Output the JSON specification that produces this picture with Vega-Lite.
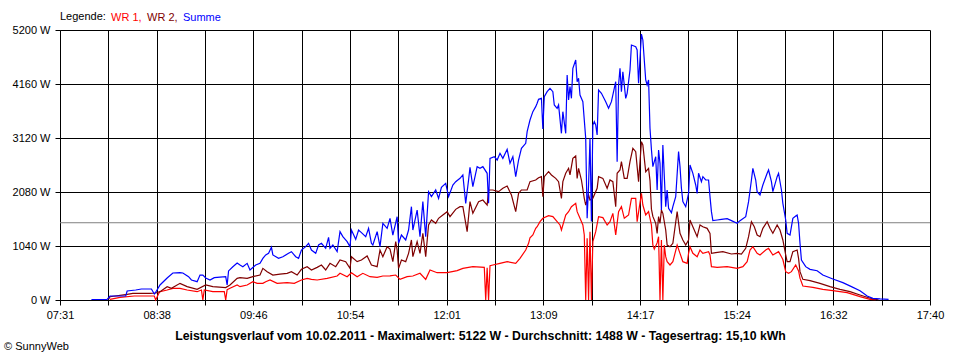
{
  "$schema": "https://vega.github.io/schema/vega-lite/v6.json",
  "width": 870,
  "height": 270,
  "autosize": {"type": "none"},
  "padding": {"left": 60, "top": 30, "right": 30, "bottom": 60},
  "background": "#ffffff",
  "config": {
    "font": "Liberation Sans",
    "view": {"stroke": null},
    "axis": {
      "labelFont": "Liberation Sans", "labelFontSize": 11, "labelColor": "#000000",
      "domainColor": "#000000", "tickColor": "#000000", "gridColor": "#000000",
      "gridOpacity": 1, "tickSize": 5, "domainWidth": 1, "gridWidth": 1, "tickWidth": 1,
      "titleFont": "Liberation Sans", "titleColor": "#000000"
    }
  },
  "title": {"text": "© SunnyWeb", "orient": "bottom", "anchor": "start", "fontSize": 11, "fontWeight": "normal", "font": "Liberation Sans", "color": "#000000", "offset": 0, "dx": -8},
  "layer": [
    {
      "data": {"values": [{"w": 1488}]},
      "mark": {"type": "rule", "color": "#808080", "strokeWidth": 1},
      "encoding": {
        "y": {
          "field": "w", "type": "quantitative",
          "scale": {"domain": [0, 5200], "nice": false},
          "axis": {"values": [0, 1040, 2080, 3120, 4160, 5200], "labelExpr": "datum.value + ' W'", "title": null, "labelPadding": 5, "grid": true}
        }
      }
    },
    {
      "data": {"format": {"parse": {"t": "date:'%H:%M'"}}, "values": [
        {"t":"08:06","w":13},{"t":"08:13","w":52},{"t":"08:23","w":77},{"t":"08:37","w":77},{"t":"08:38","w":0},{"t":"08:40","w":120},{"t":"08:41","w":160},{"t":"08:46","w":193},{"t":"08:50","w":225},{"t":"08:55","w":225},{"t":"09:00","w":193},{"t":"09:07","w":160},{"t":"09:10","w":193},{"t":"09:11","w":0},{"t":"09:12","w":193},{"t":"09:18","w":160},{"t":"09:26","w":160},{"t":"09:27","w":0},{"t":"09:28","w":200},{"t":"09:30","w":225},{"t":"09:35","w":289},{"t":"09:37","w":257},{"t":"09:42","w":289},{"t":"09:46","w":353},{"t":"09:49","w":321},{"t":"09:53","w":321},{"t":"09:55","w":353},{"t":"09:58","w":385},{"t":"10:03","w":321},{"t":"10:10","w":334},{"t":"10:15","w":321},{"t":"10:20","w":385},{"t":"10:24","w":417},{"t":"10:27","w":398},{"t":"10:31","w":385},{"t":"10:38","w":417},{"t":"10:45","w":462},{"t":"10:47","w":514},{"t":"10:52","w":449},{"t":"10:55","w":526},{"t":"10:59","w":449},{"t":"11:03","w":514},{"t":"11:08","w":449},{"t":"11:13","w":436},{"t":"11:17","w":462},{"t":"11:22","w":465},{"t":"11:26","w":481},{"t":"11:29","w":398},{"t":"11:34","w":449},{"t":"11:38","w":462},{"t":"11:43","w":514},{"t":"11:47","w":398},{"t":"11:50","w":578},{"t":"11:55","w":526},{"t":"12:02","w":526},{"t":"12:09","w":565},{"t":"12:13","w":610},{"t":"12:20","w":642},{"t":"12:28","w":629},{"t":"12:29","w":0},{"t":"12:30","w":620},{"t":"12:31","w":0},{"t":"12:32","w":660},{"t":"12:34","w":674},{"t":"12:39","w":706},{"t":"12:44","w":738},{"t":"12:50","w":706},{"t":"12:53","w":802},{"t":"12:57","w":963},{"t":"12:59","w":1092},{"t":"13:00","w":1200},{"t":"13:02","w":1252},{"t":"13:04","w":1380},{"t":"13:05","w":1412},{"t":"13:07","w":1508},{"t":"13:09","w":1573},{"t":"13:13","w":1624},{"t":"13:16","w":1605},{"t":"13:19","w":1508},{"t":"13:21","w":1445},{"t":"13:22","w":1348},{"t":"13:25","w":1637},{"t":"13:27","w":1701},{"t":"13:29","w":1797},{"t":"13:32","w":1862},{"t":"13:33","w":1701},{"t":"13:35","w":1573},{"t":"13:37","w":1445},{"t":"13:38","w":1252},{"t":"13:39","w":0},{"t":"13:40","w":1188},{"t":"13:41","w":0},{"t":"13:42","w":1316},{"t":"13:43","w":0},{"t":"13:44","w":1123},{"t":"13:46","w":1316},{"t":"13:48","w":1605},{"t":"13:51","w":1586},{"t":"13:54","w":1445},{"t":"13:56","w":1508},{"t":"13:58","w":1669},{"t":"14:00","w":1252},{"t":"14:02","w":1701},{"t":"14:04","w":1797},{"t":"14:06","w":1573},{"t":"14:09","w":1637},{"t":"14:11","w":1958},{"t":"14:14","w":1958},{"t":"14:15","w":1508},{"t":"14:18","w":2054},{"t":"14:19","w":1829},{"t":"14:21","w":1637},{"t":"14:23","w":1701},{"t":"14:25","w":1445},{"t":"14:26","w":1060},{"t":"14:27","w":980},{"t":"14:29","w":1100},{"t":"14:30","w":1220},{"t":"14:31","w":0},{"t":"14:32","w":1156},{"t":"14:33","w":0},{"t":"14:34","w":1059},{"t":"14:35","w":834},{"t":"14:36","w":738},{"t":"14:38","w":674},{"t":"14:40","w":738},{"t":"14:43","w":1059},{"t":"14:45","w":899},{"t":"14:47","w":738},{"t":"14:50","w":706},{"t":"14:51","w":899},{"t":"14:52","w":1027},{"t":"14:54","w":899},{"t":"14:57","w":834},{"t":"14:59","w":963},{"t":"15:01","w":899},{"t":"15:05","w":931},{"t":"15:06","w":867},{"t":"15:07","w":642},{"t":"15:11","w":629},{"t":"15:18","w":642},{"t":"15:25","w":610},{"t":"15:29","w":642},{"t":"15:32","w":738},{"t":"15:34","w":963},{"t":"15:36","w":1027},{"t":"15:39","w":899},{"t":"15:41","w":867},{"t":"15:45","w":963},{"t":"15:47","w":995},{"t":"15:50","w":867},{"t":"15:54","w":931},{"t":"15:56","w":834},{"t":"15:57","w":780},{"t":"15:59","w":546},{"t":"16:01","w":514},{"t":"16:03","w":546},{"t":"16:06","w":674},{"t":"16:08","w":560},{"t":"16:09","w":420},{"t":"16:11","w":270},{"t":"16:18","w":244},{"t":"16:25","w":205},{"t":"16:32","w":180},{"t":"16:42","w":141},{"t":"16:51","w":64},{"t":"16:58","w":13},{"t":"17:02","w":5}
      ]},
      "mark": {"type": "line", "strokeWidth": 1.2},
      "encoding": {
        "x": {
          "field": "t", "type": "temporal",
          "scale": {"domain": [{"year":1900,"month":1,"date":1,"hours":7,"minutes":31,"seconds":0},{"year":1900,"month":1,"date":1,"hours":17,"minutes":40,"seconds":0}]},
          "axis": {
            "values": [
              {"year":1900,"month":1,"date":1,"hours":7,"minutes":31,"seconds":0},
              {"year":1900,"month":1,"date":1,"hours":8,"minutes":4,"seconds":50},
              {"year":1900,"month":1,"date":1,"hours":8,"minutes":38,"seconds":40},
              {"year":1900,"month":1,"date":1,"hours":9,"minutes":12,"seconds":30},
              {"year":1900,"month":1,"date":1,"hours":9,"minutes":46,"seconds":20},
              {"year":1900,"month":1,"date":1,"hours":10,"minutes":20,"seconds":10},
              {"year":1900,"month":1,"date":1,"hours":10,"minutes":54,"seconds":0},
              {"year":1900,"month":1,"date":1,"hours":11,"minutes":27,"seconds":50},
              {"year":1900,"month":1,"date":1,"hours":12,"minutes":1,"seconds":40},
              {"year":1900,"month":1,"date":1,"hours":12,"minutes":35,"seconds":30},
              {"year":1900,"month":1,"date":1,"hours":13,"minutes":9,"seconds":20},
              {"year":1900,"month":1,"date":1,"hours":13,"minutes":43,"seconds":10},
              {"year":1900,"month":1,"date":1,"hours":14,"minutes":17,"seconds":0},
              {"year":1900,"month":1,"date":1,"hours":14,"minutes":50,"seconds":50},
              {"year":1900,"month":1,"date":1,"hours":15,"minutes":24,"seconds":40},
              {"year":1900,"month":1,"date":1,"hours":15,"minutes":58,"seconds":30},
              {"year":1900,"month":1,"date":1,"hours":16,"minutes":32,"seconds":20},
              {"year":1900,"month":1,"date":1,"hours":17,"minutes":6,"seconds":10},
              {"year":1900,"month":1,"date":1,"hours":17,"minutes":40,"seconds":0}
            ],
            "labelExpr": "seconds(datum.value) % 20 == 0 ? timeFormat(datum.value, '%H:%M') : ''",
            "labelOverlap": false, "labelFlush": false, "labelPadding": 4, "grid": true,
            "title": "Leistungsverlauf vom 10.02.2011 - Maximalwert: 5122 W - Durchschnitt: 1488 W - Tagesertrag: 15,10 kWh",
            "titleFontWeight": "bold", "titleFontSize": 12.3, "titlePadding": 9, "titleX": 420
          }
        },
        "y": {
          "field": "w", "type": "quantitative",
          "scale": {"domain": [0, 5200], "nice": false},
          "axis": {"values": [0, 1040, 2080, 3120, 4160, 5200], "labelExpr": "datum.value + ' W'", "title": null, "labelPadding": 5, "grid": true}
        },
        "color": {
          "datum": "WR 1", "type": "nominal",
          "scale": {"domain": ["WR 1", "WR 2", "Summe"], "range": ["#ff0000", "#800000", "#0000ff"]},
          "legend": {
            "title": "Legende:", "orient": "top", "direction": "horizontal", "titleOrient": "left",
            "titleFontWeight": "normal", "titleFontSize": 11, "titleColor": "#000000", "titleFont": "Liberation Sans",
            "labelFontSize": 11, "labelFont": "Liberation Sans",
            "symbolSize": 0, "symbolOpacity": 0, "symbolStrokeWidth": 0, "labelOffset": -9,
            "columnPadding": 3, "titlePadding": 3, "offset": 7,
            "labelExpr": "datum.value == 'Summe' ? datum.value : datum.value + ','",
            "labelColor": {"expr": "datum.value == 'WR 1' ? '#ff0000' : datum.value == 'WR 2' ? '#800000' : '#0000ff'"}
          }
        }
      }
    },
    {
      "data": {"format": {"parse": {"t": "date:'%H:%M'"}}, "values": [
        {"t":"08:05","w":10},{"t":"08:06","w":64},{"t":"08:18","w":110},{"t":"08:22","w":128},{"t":"08:34","w":128},{"t":"08:38","w":135},{"t":"08:41","w":160},{"t":"08:46","w":257},{"t":"08:49","w":225},{"t":"08:55","w":321},{"t":"09:00","w":257},{"t":"09:07","w":205},{"t":"09:13","w":289},{"t":"09:18","w":257},{"t":"09:27","w":240},{"t":"09:30","w":289},{"t":"09:35","w":417},{"t":"09:37","w":430},{"t":"09:42","w":417},{"t":"09:46","w":449},{"t":"09:51","w":481},{"t":"09:53","w":610},{"t":"09:56","w":546},{"t":"10:00","w":481},{"t":"10:05","w":500},{"t":"10:10","w":514},{"t":"10:13","w":546},{"t":"10:17","w":481},{"t":"10:20","w":591},{"t":"10:24","w":642},{"t":"10:27","w":578},{"t":"10:31","w":629},{"t":"10:34","w":674},{"t":"10:37","w":578},{"t":"10:40","w":706},{"t":"10:44","w":642},{"t":"10:47","w":770},{"t":"10:51","w":738},{"t":"10:54","w":610},{"t":"10:55","w":834},{"t":"10:59","w":738},{"t":"11:02","w":770},{"t":"11:06","w":847},{"t":"11:09","w":674},{"t":"11:13","w":642},{"t":"11:15","w":963},{"t":"11:17","w":834},{"t":"11:20","w":1027},{"t":"11:22","w":980},{"t":"11:24","w":738},{"t":"11:26","w":1123},{"t":"11:27","w":963},{"t":"11:28","w":610},{"t":"11:30","w":770},{"t":"11:33","w":738},{"t":"11:35","w":899},{"t":"11:37","w":1156},{"t":"11:38","w":834},{"t":"11:41","w":1123},{"t":"11:43","w":899},{"t":"11:45","w":1284},{"t":"11:47","w":834},{"t":"11:49","w":1445},{"t":"11:51","w":1541},{"t":"11:54","w":1477},{"t":"11:56","w":1573},{"t":"11:59","w":1637},{"t":"12:02","w":1701},{"t":"12:04","w":1605},{"t":"12:08","w":1746},{"t":"12:11","w":1797},{"t":"12:13","w":1797},{"t":"12:16","w":1316},{"t":"12:18","w":1894},{"t":"12:20","w":1669},{"t":"12:24","w":1894},{"t":"12:27","w":1926},{"t":"12:30","w":1829},{"t":"12:31","w":2119},{"t":"12:34","w":2119},{"t":"12:38","w":2086},{"t":"12:41","w":2151},{"t":"12:44","w":2196},{"t":"12:47","w":2022},{"t":"12:50","w":1701},{"t":"12:52","w":2054},{"t":"12:54","w":2119},{"t":"12:58","w":2119},{"t":"13:00","w":2279},{"t":"13:04","w":2311},{"t":"13:06","w":2356},{"t":"13:08","w":2375},{"t":"13:09","w":1990},{"t":"13:10","w":2375},{"t":"13:13","w":2471},{"t":"13:15","w":2408},{"t":"13:18","w":2343},{"t":"13:20","w":2279},{"t":"13:22","w":1958},{"t":"13:23","w":2279},{"t":"13:25","w":2440},{"t":"13:27","w":2536},{"t":"13:28","w":2408},{"t":"13:30","w":2728},{"t":"13:32","w":2773},{"t":"13:33","w":2343},{"t":"13:34","w":2536},{"t":"13:36","w":2311},{"t":"13:38","w":1958},{"t":"13:39","w":1829},{"t":"13:41","w":2022},{"t":"13:42","w":1926},{"t":"13:44","w":1958},{"t":"13:47","w":2151},{"t":"13:48","w":2375},{"t":"13:51","w":2343},{"t":"13:54","w":2151},{"t":"13:56","w":2311},{"t":"13:58","w":2279},{"t":"14:00","w":1797},{"t":"14:01","w":2440},{"t":"14:03","w":2504},{"t":"14:04","w":2664},{"t":"14:06","w":2343},{"t":"14:08","w":2343},{"t":"14:10","w":2664},{"t":"14:12","w":2921},{"t":"14:14","w":2857},{"t":"14:16","w":2279},{"t":"14:18","w":3050},{"t":"14:19","w":2985},{"t":"14:21","w":2471},{"t":"14:23","w":2536},{"t":"14:24","w":2300},{"t":"14:25","w":1750},{"t":"14:26","w":1610},{"t":"14:28","w":1477},{"t":"14:29","w":1284},{"t":"14:30","w":1605},{"t":"14:31","w":1477},{"t":"14:32","w":1733},{"t":"14:33","w":1669},{"t":"14:35","w":1348},{"t":"14:36","w":1059},{"t":"14:38","w":1027},{"t":"14:40","w":1092},{"t":"14:43","w":1701},{"t":"14:45","w":1284},{"t":"14:47","w":1156},{"t":"14:49","w":1059},{"t":"14:51","w":1156},{"t":"14:52","w":1541},{"t":"14:54","w":1412},{"t":"14:57","w":1220},{"t":"14:59","w":1445},{"t":"15:01","w":1412},{"t":"15:04","w":1380},{"t":"15:06","w":1284},{"t":"15:07","w":899},{"t":"15:10","w":911},{"t":"15:15","w":931},{"t":"15:21","w":886},{"t":"15:25","w":899},{"t":"15:28","w":886},{"t":"15:31","w":995},{"t":"15:33","w":1220},{"t":"15:35","w":1508},{"t":"15:37","w":1412},{"t":"15:39","w":1252},{"t":"15:41","w":1220},{"t":"15:43","w":1380},{"t":"15:46","w":1508},{"t":"15:48","w":1380},{"t":"15:50","w":1284},{"t":"15:53","w":1445},{"t":"15:55","w":1348},{"t":"15:57","w":1156},{"t":"15:59","w":867},{"t":"16:00","w":738},{"t":"16:02","w":738},{"t":"16:04","w":931},{"t":"16:07","w":963},{"t":"16:08","w":802},{"t":"16:09","w":546},{"t":"16:11","w":398},{"t":"16:16","w":372},{"t":"16:23","w":321},{"t":"16:30","w":257},{"t":"16:37","w":205},{"t":"16:44","w":160},{"t":"16:51","w":96},{"t":"16:56","w":52},{"t":"17:00","w":19},{"t":"17:04","w":5}
      ]},
      "mark": {"type": "line", "strokeWidth": 1.2},
      "encoding": {
        "x": {"field": "t", "type": "temporal"},
        "y": {"field": "w", "type": "quantitative"},
        "color": {"datum": "WR 2", "type": "nominal"}
      }
    },
    {
      "data": {"format": {"parse": {"t": "date:'%H:%M'"}}, "values": [
        {"t":"07:53","w":10},{"t":"08:04","w":13},{"t":"08:06","w":77},{"t":"08:17","w":77},{"t":"08:18","w":173},{"t":"08:24","w":193},{"t":"08:28","w":212},{"t":"08:35","w":212},{"t":"08:37","w":115},{"t":"08:38","w":150},{"t":"08:41","w":289},{"t":"08:46","w":424},{"t":"08:50","w":520},{"t":"08:55","w":526},{"t":"08:57","w":520},{"t":"09:01","w":449},{"t":"09:03","w":385},{"t":"09:07","w":353},{"t":"09:09","w":480},{"t":"09:11","w":480},{"t":"09:13","w":424},{"t":"09:16","w":385},{"t":"09:19","w":430},{"t":"09:23","w":440},{"t":"09:27","w":450},{"t":"09:28","w":289},{"t":"09:29","w":560},{"t":"09:32","w":640},{"t":"09:35","w":712},{"t":"09:37","w":674},{"t":"09:39","w":642},{"t":"09:42","w":706},{"t":"09:44","w":578},{"t":"09:48","w":674},{"t":"09:51","w":706},{"t":"09:53","w":800},{"t":"09:55","w":867},{"t":"09:57","w":899},{"t":"09:59","w":1015},{"t":"10:00","w":867},{"t":"10:04","w":802},{"t":"10:07","w":834},{"t":"10:11","w":899},{"t":"10:13","w":931},{"t":"10:16","w":834},{"t":"10:18","w":802},{"t":"10:20","w":963},{"t":"10:23","w":1027},{"t":"10:25","w":1092},{"t":"10:27","w":963},{"t":"10:30","w":899},{"t":"10:32","w":1059},{"t":"10:34","w":1092},{"t":"10:37","w":995},{"t":"10:39","w":1207},{"t":"10:40","w":995},{"t":"10:42","w":1059},{"t":"10:45","w":931},{"t":"10:47","w":1316},{"t":"10:49","w":1220},{"t":"10:52","w":1123},{"t":"10:54","w":1027},{"t":"10:55","w":1348},{"t":"10:58","w":1169},{"t":"11:00","w":1348},{"t":"11:02","w":1297},{"t":"11:05","w":1220},{"t":"11:07","w":1380},{"t":"11:09","w":1092},{"t":"11:10","w":1059},{"t":"11:13","w":1316},{"t":"11:15","w":1027},{"t":"11:17","w":1477},{"t":"11:20","w":1380},{"t":"11:22","w":1573},{"t":"11:24","w":1250},{"t":"11:27","w":1605},{"t":"11:28","w":1092},{"t":"11:30","w":1252},{"t":"11:33","w":1156},{"t":"11:35","w":1348},{"t":"11:37","w":1797},{"t":"11:38","w":1348},{"t":"11:41","w":1733},{"t":"11:43","w":1220},{"t":"11:45","w":1894},{"t":"11:47","w":1220},{"t":"11:49","w":2086},{"t":"11:51","w":1990},{"t":"11:54","w":2119},{"t":"11:56","w":1958},{"t":"11:58","w":2170},{"t":"12:01","w":2247},{"t":"12:03","w":1990},{"t":"12:06","w":2215},{"t":"12:08","w":2279},{"t":"12:11","w":2343},{"t":"12:13","w":2408},{"t":"12:15","w":1862},{"t":"12:17","w":2311},{"t":"12:18","w":2555},{"t":"12:20","w":2183},{"t":"12:23","w":2568},{"t":"12:25","w":2536},{"t":"12:27","w":2568},{"t":"12:30","w":2440},{"t":"12:31","w":1862},{"t":"12:32","w":2728},{"t":"12:35","w":2760},{"t":"12:37","w":2696},{"t":"12:39","w":2825},{"t":"12:41","w":2728},{"t":"12:44","w":2902},{"t":"12:46","w":2632},{"t":"12:48","w":2760},{"t":"12:50","w":2375},{"t":"12:52","w":2696},{"t":"12:54","w":2921},{"t":"12:57","w":3018},{"t":"12:58","w":3242},{"t":"13:00","w":3467},{"t":"13:02","w":3627},{"t":"13:04","w":3724},{"t":"13:05","w":3788},{"t":"13:06","w":3865},{"t":"13:08","w":3884},{"t":"13:09","w":3293},{"t":"13:10","w":3916},{"t":"13:12","w":4012},{"t":"13:14","w":4076},{"t":"13:16","w":4012},{"t":"13:17","w":3756},{"t":"13:19","w":3692},{"t":"13:20","w":3756},{"t":"13:22","w":3210},{"t":"13:23","w":3627},{"t":"13:25","w":3210},{"t":"13:26","w":4334},{"t":"13:27","w":3852},{"t":"13:28","w":4109},{"t":"13:29","w":3884},{"t":"13:30","w":4462},{"t":"13:32","w":4622},{"t":"13:33","w":4205},{"t":"13:34","w":4270},{"t":"13:35","w":3948},{"t":"13:37","w":3820},{"t":"13:39","w":3114},{"t":"13:40","w":1573},{"t":"13:41","w":2215},{"t":"13:42","w":3114},{"t":"13:43","w":1510},{"t":"13:44","w":3370},{"t":"13:45","w":3435},{"t":"13:46","w":3370},{"t":"13:47","w":3178},{"t":"13:48","w":4044},{"t":"13:50","w":3981},{"t":"13:53","w":3820},{"t":"13:55","w":3692},{"t":"13:57","w":3820},{"t":"14:00","w":4205},{"t":"14:01","w":2664},{"t":"14:02","w":4141},{"t":"14:03","w":4462},{"t":"14:04","w":4012},{"t":"14:05","w":4397},{"t":"14:07","w":3884},{"t":"14:08","w":3981},{"t":"14:10","w":4430},{"t":"14:11","w":4911},{"t":"14:14","w":4879},{"t":"14:15","w":4815},{"t":"14:16","w":4173},{"t":"14:18","w":5122},{"t":"14:19","w":5008},{"t":"14:21","w":4237},{"t":"14:22","w":4141},{"t":"14:23","w":4237},{"t":"14:24","w":3307},{"t":"14:25","w":2900},{"t":"14:26","w":2568},{"t":"14:28","w":2760},{"t":"14:29","w":2119},{"t":"14:30","w":2889},{"t":"14:31","w":2632},{"t":"14:32","w":1733},{"t":"14:33","w":2985},{"t":"14:35","w":1797},{"t":"14:36","w":2119},{"t":"14:37","w":1766},{"t":"14:39","w":1682},{"t":"14:40","w":1797},{"t":"14:42","w":1990},{"t":"14:44","w":2857},{"t":"14:45","w":2568},{"t":"14:46","w":2151},{"t":"14:47","w":1894},{"t":"14:49","w":1797},{"t":"14:51","w":2054},{"t":"14:52","w":2600},{"t":"14:54","w":2440},{"t":"14:56","w":2215},{"t":"14:57","w":2054},{"t":"14:58","w":2440},{"t":"15:00","w":2279},{"t":"15:01","w":2375},{"t":"15:03","w":2311},{"t":"15:05","w":2311},{"t":"15:06","w":1990},{"t":"15:07","w":1701},{"t":"15:08","w":1528},{"t":"15:11","w":1541},{"t":"15:14","w":1554},{"t":"15:18","w":1566},{"t":"15:21","w":1528},{"t":"15:25","w":1477},{"t":"15:27","w":1528},{"t":"15:31","w":1605},{"t":"15:33","w":1894},{"t":"15:35","w":2311},{"t":"15:36","w":2536},{"t":"15:38","w":2311},{"t":"15:39","w":2086},{"t":"15:41","w":2022},{"t":"15:43","w":2215},{"t":"15:46","w":2440},{"t":"15:47","w":2504},{"t":"15:49","w":2279},{"t":"15:50","w":2086},{"t":"15:53","w":2375},{"t":"15:54","w":2440},{"t":"15:56","w":2119},{"t":"15:57","w":1862},{"t":"15:59","w":1541},{"t":"16:00","w":1284},{"t":"16:02","w":1252},{"t":"16:04","w":1573},{"t":"16:06","w":1618},{"t":"16:07","w":1637},{"t":"16:08","w":1477},{"t":"16:09","w":1092},{"t":"16:10","w":770},{"t":"16:13","w":642},{"t":"16:16","w":591},{"t":"16:21","w":564},{"t":"16:25","w":481},{"t":"16:32","w":404},{"t":"16:39","w":334},{"t":"16:45","w":257},{"t":"16:51","w":180},{"t":"16:56","w":77},{"t":"17:00","w":32},{"t":"17:05","w":20},{"t":"17:11","w":13}
      ]},
      "mark": {"type": "line", "strokeWidth": 1.2},
      "encoding": {
        "x": {"field": "t", "type": "temporal"},
        "y": {"field": "w", "type": "quantitative"},
        "color": {"datum": "Summe", "type": "nominal"}
      }
    }
  ]
}
